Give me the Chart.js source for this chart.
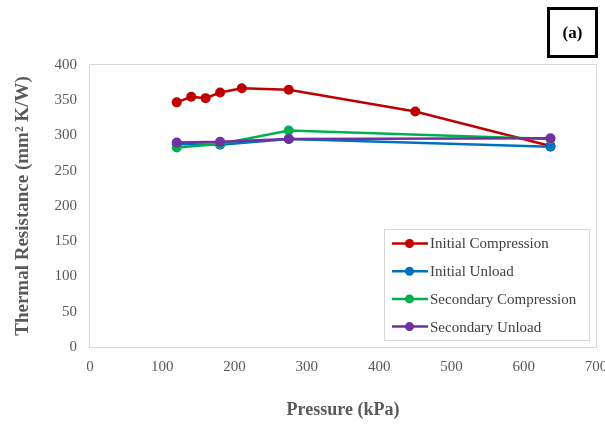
<!DOCTYPE html>
<html>
<head>
<meta charset="utf-8">
<script src="https://cdn.jsdelivr.net/npm/chart.js@4"></script>
<style>
    html, body { margin: 0; padding: 0; background: #fff; }
    #wrap { position: relative; width: 605px; height: 427px; }
    #tag {
        position: absolute; left: 547px; top: 7px; width: 45px; height: 45px;
        border: 3px solid #000; font: bold 17px "Liberation Serif", serif;
        display: flex; align-items: center; justify-content: center; color: #000;
    }
</style>
</head>
<body>
<div id="wrap">
    <canvas id="thermalChart" width="605" height="427"></canvas>
    <div id="tag">(a)</div>
</div>
<script>
// pressure (kPa) and thermal resistance (mm² K/W)
const seriesNames = ['Initial Compression', 'Initial Unload', 'Secondary Compression', 'Secondary Unload'];
const initialCompressionX = [120, 140, 160, 180, 210, 275, 450, 637];
const initialCompressionY = [347, 355, 353, 361, 367, 365, 334, 285];
const unloadX = [120, 180, 275, 637];
const initialUnloadY = [288, 287, 295, 284];
const secondaryCompressionY = [283, 288, 307, 295];
const secondaryUnloadY = [290, 291, 295, 296];
const xTicks = [0, 100, 200, 300, 400, 500, 600, 700];
const yTicks = [0, 50, 100, 150, 200, 250, 300, 350, 400];

const colors = ['#C00000', '#0070C0', '#00B050', '#7030A0'];
const serif = '"Liberation Serif", "Times New Roman", serif';

function toPoints(xs, ys) {
    return xs.map((x, i) => ({ x: x, y: ys[i] }));
}

const seriesData = [
    toPoints(initialCompressionX, initialCompressionY),
    toPoints(unloadX, initialUnloadY),
    toPoints(unloadX, secondaryCompressionY),
    toPoints(unloadX, secondaryUnloadY)
];

const datasets = seriesNames.map((name, i) => ({
    label: name,
    data: seriesData[i],
    borderColor: colors[i],
    backgroundColor: colors[i],
    borderWidth: 2.5,
    pointRadius: 5,
    pointHoverRadius: 5,
    pointBorderWidth: 0,
    tension: 0,
    fill: false,
    order: seriesNames.length - i // later series on top, like Excel
}));

// light grey frame round the plot area
const plotFrame = {
    id: 'plotFrame',
    beforeDatasetsDraw(chart) {
        const a = chart.chartArea;
        const c = chart.ctx;
        c.save();
        c.strokeStyle = '#d9d9d9';
        c.lineWidth = 1;
        c.strokeRect(a.left - 0.5, a.top - 0.5, a.right - a.left + 1, a.bottom - a.top + 1);
        c.restore();
    }
};

// legend box inside the plot, drawn from the datasets
const boxLegend = {
    id: 'boxLegend',
    afterDraw(chart) {
        const c = chart.ctx;
        const left = 384, top = 229, w = 205, h = 111;
        c.save();
        c.fillStyle = '#fff';
        c.fillRect(left, top, w, h);
        c.strokeStyle = '#d9d9d9';
        c.lineWidth = 1;
        c.strokeRect(left + 0.5, top + 0.5, w, h);
        c.font = '15px ' + serif;
        c.textBaseline = 'middle';
        chart.data.datasets.forEach((ds, i) => {
            const y = 243.5 + i * 27.7;
            c.strokeStyle = ds.borderColor;
            c.lineWidth = 2.5;
            c.beginPath();
            c.moveTo(392, y);
            c.lineTo(428, y);
            c.stroke();
            c.fillStyle = ds.borderColor;
            c.beginPath();
            c.arc(409.5, y, 4.5, 0, Math.PI * 2);
            c.fill();
            c.fillStyle = '#404040';
            c.fillText(ds.label, 430, y + 1);
        });
        c.restore();
    }
};

const ctx = document.getElementById('thermalChart').getContext('2d');
const thermalChart = new Chart(ctx, {
    type: 'line',
    data: { datasets: datasets },
    options: {
        responsive: false,
        animation: false,
        layout: { padding: { left: 0, right: 9, top: 65, bottom: 0 } },
        plugins: {
            legend: { display: false },
            tooltip: { enabled: false }
        },
        scales: {
            x: {
                type: 'linear',
                min: 0,
                max: 700,
                afterBuildTicks: (scale) => { scale.ticks = xTicks.map(v => ({ value: v })); },
                afterFit: (scale) => {
                    scale.height = 80;
                    scale.paddingLeft = 0;
                    scale.paddingRight = 0; // let "700" run off the edge
                },
                grid: { display: false },
                border: { display: false },
                ticks: {
                    padding: 3,
                    maxRotation: 0,
                    color: '#595959',
                    font: { family: serif, size: 15 }
                },
                title: {
                    display: true,
                    text: 'Pressure (kPa)',
                    color: '#595959',
                    font: { family: serif, size: 18, weight: 'bold' },
                    padding: { top: 0, bottom: 6 }
                }
            },
            y: {
                type: 'linear',
                min: 0,
                max: 400,
                afterBuildTicks: (scale) => { scale.ticks = yTicks.map(v => ({ value: v })); },
                afterFit: (scale) => {
                    scale.width = 90;
                    scale.paddingTop = 0;
                    scale.paddingBottom = 0;
                },
                grid: { display: false },
                border: { display: false },
                ticks: {
                    padding: 5,
                    color: '#595959',
                    font: { family: serif, size: 15 }
                },
                title: {
                    display: true,
                    text: 'Thermal Resistance (mm\u00B2 K/W)',
                    color: '#595959',
                    font: { family: serif, size: 19, weight: 'bold' },
                    padding: { top: 12, bottom: 0 }
                }
            }
        }
    },
    plugins: [plotFrame, boxLegend]
});
</script>
</body>
</html>
